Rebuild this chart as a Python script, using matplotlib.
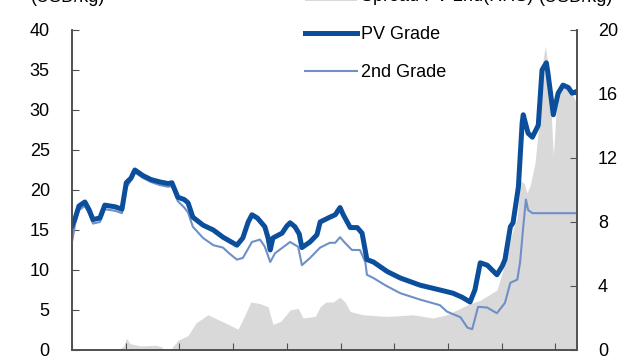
import matplotlib
matplotlib.use("Agg")
import matplotlib.pyplot as plt
from matplotlib.patches import Patch
from matplotlib.lines import Line2D

plt.rcParams['font.family'] = ['Liberation Sans Narrow', 'Liberation Sans', 'DejaVu Sans']

# --------------------------------------------------------
# Data (USD/kg), dates as decimal years
# --------------------------------------------------------
pv_t = [2013.00, 2013.06, 2013.13, 2013.24, 2013.32, 2013.39, 2013.52, 2013.61, 2013.80, 2013.93,
        2014.01, 2014.10, 2014.17, 2014.32, 2014.47, 2014.64, 2014.79, 2014.86, 2014.97, 2015.09,
        2015.16, 2015.25, 2015.44, 2015.63, 2015.81, 2015.94, 2016.07, 2016.18, 2016.28, 2016.35,
        2016.45, 2016.59, 2016.65, 2016.69, 2016.74, 2016.91, 2017.00, 2017.06, 2017.15, 2017.23,
        2017.28, 2017.43, 2017.56, 2017.62, 2017.80, 2017.90, 2017.99, 2018.05, 2018.18, 2018.31,
        2018.40, 2018.49, 2018.61, 2018.87, 2019.11, 2019.48, 2019.85, 2020.09, 2020.26, 2020.41,
        2020.50, 2020.60, 2020.73, 2020.91, 2021.01, 2021.06, 2021.16, 2021.21, 2021.31, 2021.38,
        2021.40, 2021.49, 2021.57, 2021.68, 2021.75, 2021.83, 2021.86, 2021.96, 2022.05, 2022.14,
        2022.24, 2022.31, 2022.39]
pv = [15.5, 16.5, 18.0, 18.5, 17.5, 16.3, 16.5, 18.1, 17.9, 17.6,
      20.9, 21.5, 22.5, 21.8, 21.3, 21.0, 20.8, 20.9, 19.1, 18.8,
      18.4, 16.6, 15.6, 15.0, 14.1, 13.6, 13.1, 14.0, 16.0, 16.9,
      16.5, 15.4, 14.0, 12.5, 14.0, 14.6, 15.5, 15.9, 15.4, 14.5,
      12.8, 13.5, 14.4, 16.0, 16.6, 16.9, 17.8, 16.9, 15.3, 15.3,
      14.6, 11.3, 11.0, 9.8, 9.0, 8.1, 7.5, 7.1, 6.6, 6.0,
      7.5, 10.9, 10.6, 9.4, 10.5, 11.3, 15.4, 15.9, 20.4, 28.4,
      29.4, 27.1, 26.6, 28.1, 35.0, 35.9, 34.6, 29.4, 32.1, 33.1,
      32.8, 32.1, 32.3]

g2_t = [2013.00, 2013.06, 2013.13, 2013.24, 2013.32, 2013.39, 2013.52, 2013.61, 2013.80, 2013.93,
        2014.01, 2014.10, 2014.17, 2014.32, 2014.47, 2014.64, 2014.79, 2014.86, 2014.97, 2015.09,
        2015.16, 2015.25, 2015.44, 2015.63, 2015.81, 2015.94, 2016.07, 2016.18, 2016.35, 2016.50,
        2016.59, 2016.69, 2016.78, 2017.06, 2017.21, 2017.28, 2017.43, 2017.62, 2017.80, 2017.90,
        2017.99, 2018.08, 2018.21, 2018.36, 2018.46, 2018.49, 2018.61, 2018.83, 2019.11, 2019.48,
        2019.85, 2019.98, 2020.23, 2020.36, 2020.45, 2020.56, 2020.73, 2020.91, 2021.06, 2021.16,
        2021.29, 2021.34, 2021.40, 2021.45, 2021.49, 2021.57, 2022.40]
g2 = [13.5, 15.8, 17.5, 18.0, 17.0, 15.8, 16.0, 17.6, 17.4, 17.1,
      20.3, 21.2, 22.2, 21.5, 21.0, 20.6, 20.4, 20.5, 18.6, 17.8,
      17.2, 15.4, 14.0, 13.1, 12.8, 12.0, 11.3, 11.5, 13.5, 13.8,
      12.9, 11.0, 12.1, 13.5, 12.9, 10.6, 11.5, 12.8, 13.4, 13.4,
      14.1, 13.4, 12.5, 12.5, 11.0, 9.4, 9.0, 8.1, 7.1, 6.3,
      5.6, 4.8, 4.1, 2.8, 2.6, 5.4, 5.3, 4.6, 5.9, 8.4,
      8.8, 10.9, 15.4, 18.8, 17.5, 17.1, 17.1]

sp_t = [2013.00, 2013.52, 2013.61, 2013.71, 2013.91, 2013.97, 2014.01, 2014.08, 2014.29, 2014.56,
        2014.66, 2014.73, 2014.84, 2014.97, 2015.16, 2015.31, 2015.40, 2015.53, 2015.72, 2015.91,
        2016.09, 2016.18, 2016.33, 2016.50, 2016.65, 2016.74, 2016.89, 2017.06, 2017.21, 2017.30,
        2017.53, 2017.62, 2017.73, 2017.86, 2017.99, 2018.08, 2018.18, 2018.42, 2018.87, 2019.35,
        2019.72, 2019.98, 2020.23, 2020.41, 2020.60, 2020.91, 2021.06, 2021.19, 2021.29, 2021.34,
        2021.42, 2021.47, 2021.53, 2021.62, 2021.68, 2021.73, 2021.81, 2021.86, 2021.92, 2021.96,
        2022.01, 2022.09, 2022.18, 2022.27, 2022.37, 2022.40]
sp = [0.0, 0.0, 0.1, 0.0, 0.1, 0.3, 0.75, 0.4, 0.25, 0.3,
      0.2, 0.0, 0.05, 0.6, 0.9, 1.7, 1.9, 2.2, 1.9, 1.6,
      1.3, 1.9, 3.0, 2.9, 2.7, 1.6, 1.8, 2.5, 2.6, 2.0,
      2.1, 2.7, 3.0, 3.0, 3.3, 3.0, 2.4, 2.2, 2.1, 2.2,
      2.0, 2.2, 2.6, 2.9, 3.1, 3.75, 5.4, 7.3, 8.3, 10.6,
      10.4, 9.8, 10.3, 11.7, 13.75, 17.3, 19.0, 17.9, 14.8, 12.1,
      14.8, 16.25, 16.4, 16.25, 15.6, 15.0]

years = list(range(2013, 2023))
left_ticks = [0, 5, 10, 15, 20, 25, 30, 35, 40]
right_ticks = [0, 4, 8, 12, 16, 20]

PV_COLOR = "#0b4f9c"
G2_COLOR = "#6f8fc7"
SP_COLOR = "#d9d9d9"
SPINE = "#505050"

# --------------------------------------------------------
# Plot
# --------------------------------------------------------
fig = plt.figure(figsize=(6.4, 3.6), dpi=100)
ax = fig.add_axes([0.1125, 0.0278, 0.789, 0.889])
ax2 = ax.twinx()
ax.set_zorder(ax2.get_zorder() + 1)
ax.patch.set_visible(False)

ax2.fill_between(sp_t, sp, 0, color=SP_COLOR, linewidth=0)
ax.plot(g2_t, g2, color=G2_COLOR, linewidth=1.5)
ax.plot(pv_t, pv, color=PV_COLOR, linewidth=3.6, solid_joinstyle="round")

ax.set_xlim(2013, 2022.4)
ax.set_ylim(0, 40)
ax2.set_ylim(0, 20)
ax.set_yticks(left_ticks)
ax2.set_yticks(right_ticks)
ax.set_xticks(years)
ax.tick_params(axis="x", direction="in", length=5, color=SPINE, labelbottom=False)
ax.tick_params(axis="y", direction="in", length=5, color=SPINE, labelsize=13, pad=16)
ax2.tick_params(axis="y", direction="in", length=5, color=SPINE, labelsize=13, pad=15)

for a in (ax, ax2):
    a.spines["top"].set_visible(False)
    for s in ("left", "right", "bottom"):
        a.spines[s].set_color(SPINE)
        a.spines[s].set_linewidth(1.2)

handles = [Patch(facecolor=SP_COLOR, edgecolor="none"),
           Line2D([], [], color=PV_COLOR, linewidth=3.6),
           Line2D([], [], color=G2_COLOR, linewidth=1.5)]
labels = ["Spread PV-2nd(RHS)", "PV Grade", "2nd Grade"]
ax.legend(handles, labels, loc="upper left", bbox_to_anchor=(0.461, 1.13),
          frameon=False, fontsize=13, handlelength=2.9, handletextpad=0.2,
          labelspacing=1.15, borderpad=0, borderaxespad=0)

fig.text(0.106, 0.994, "(USD/kg)", fontsize=13, ha="center", va="baseline")
fig.text(0.9, 0.994, "(USD/kg)", fontsize=13, ha="center", va="baseline")

fig.savefig("out.png", dpi=100)
